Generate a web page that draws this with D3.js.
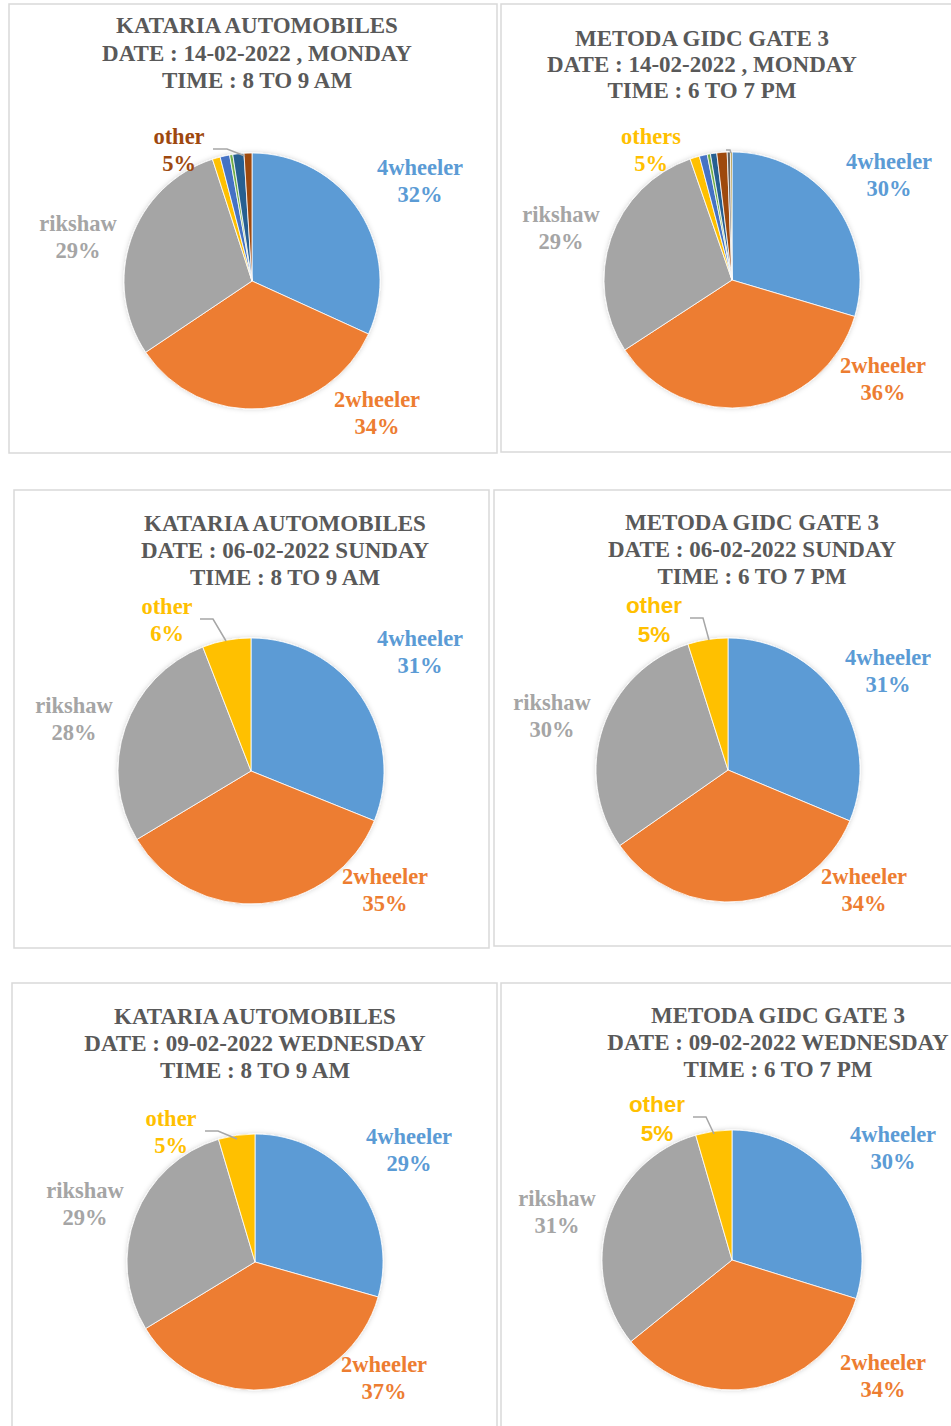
<!DOCTYPE html>
<html>
<head>
<meta charset="utf-8">
<script src="https://cdn.jsdelivr.net/npm/d3@7"></script>
<style>
  body { margin: 0; background: #fff; }
  svg { display: block; }
</style>
</head>
<body>
<svg id="chart" width="951" height="1426"></svg>
<script>
// slice order, clockwise from 12 o'clock
var categories = ["4wheeler", "2wheeler", "rikshaw", "other"];
var sliceColors = ["#5B9BD5", "#ED7D31", "#A5A5A5", "#FFC000", "#4472C4", "#70AD47", "#255E91", "#9E480E", "#636363", "#997300"];

// share of vehicles per chart (top two charts split "other" into small slices)
var values1 = [31.8, 33.8, 29.4, 1.0, 1.2, 0.4, 1.4, 1.0];
var values2 = [29.6, 36.2, 28.9, 1.2, 1.0, 0.4, 0.8, 1.3, 0.4, 0.2];
var values3 = [31.1, 35.3, 27.7, 5.9];
var values4 = [31.3, 34.0, 29.8, 4.9];
var values5 = [29.4, 36.9, 29.1, 4.6];
var values6 = [29.8, 34.4, 31.3, 4.5];

// label text as printed
var otherNames = ["other", "others", "other", "other", "other", "other"];

var titles = [
  ["KATARIA AUTOMOBILES", "DATE : 14-02-2022 , MONDAY", "TIME : 8 TO 9 AM"],
  ["METODA GIDC GATE 3", "DATE : 14-02-2022 , MONDAY", "TIME : 6 TO 7 PM"],
  ["KATARIA AUTOMOBILES", "DATE : 06-02-2022 SUNDAY", "TIME : 8 TO 9 AM"],
  ["METODA GIDC GATE 3", "DATE : 06-02-2022 SUNDAY", "TIME : 6 TO 7 PM"],
  ["KATARIA AUTOMOBILES", "DATE : 09-02-2022 WEDNESDAY", "TIME : 8 TO 9 AM"],
  ["METODA GIDC GATE 3", "DATE : 09-02-2022 WEDNESDAY", "TIME : 6 TO 7 PM"]
];

var allValues = [values1, values2, values3, values4, values5, values6];

// layout of each panel (box, title, pie, label anchors)
var panels = [
  {box: [9, 4, 488, 449], tx: 257, ty: [25, 53, 80], cx: 252, cy: 281, r: 128,
   labels: [[420, 167], [377, 399], [78, 223], [179, 136]], otherColor: "#9E480E", sans: false,
   leader: [[213, 149], [227, 149], [245, 156]]},
  {box: [501, 4, 470, 448], tx: 702, ty: [38, 64, 90], cx: 732, cy: 280, r: 128,
   labels: [[889, 161], [883, 365], [561, 214], [651, 136]], otherColor: "#FFC000", sans: false,
   leader: [[726, 150], [730, 150], [731, 153]]},
  {box: [14, 490, 475, 458], tx: 285, ty: [523, 550, 577], cx: 251, cy: 771, r: 133,
   labels: [[420, 638], [385, 876], [74, 705], [167, 606]], otherColor: "#FFC000", sans: false,
   leader: [[200, 619], [213, 619], [226, 641]]},
  {box: [494, 490, 470, 456], tx: 752, ty: [522, 549, 576], cx: 728, cy: 770, r: 132,
   labels: [[888, 657], [864, 876], [552, 702], [654, 605]], otherColor: "#FFC000", sans: true,
   leader: [[690, 618], [703, 618], [709, 640]]},
  {box: [12, 983, 485, 470], tx: 255, ty: [1016, 1043, 1070], cx: 255, cy: 1262, r: 128,
   labels: [[409, 1136], [384, 1364], [85, 1190], [171, 1118]], otherColor: "#FFC000", sans: false,
   leader: [[205, 1131], [218, 1131], [237, 1139]]},
  {box: [501, 983, 470, 470], tx: 778, ty: [1015, 1042, 1069], cx: 732, cy: 1260, r: 130,
   labels: [[893, 1134], [883, 1362], [557, 1198], [657, 1104]], otherColor: "#FFC000", sans: true,
   leader: [[693, 1117], [706, 1117], [714, 1134]]}
];

var serif = "'Liberation Serif', 'Times New Roman', serif";
var sans = "'Liberation Sans', Arial, sans-serif";

var svg = d3.select("#chart");

var defs = svg.append("defs");
var f = defs.append("filter").attr("id", "soft").attr("x", "-10%").attr("y", "-10%").attr("width", "120%").attr("height", "120%");
f.append("feDropShadow").attr("dx", 0).attr("dy", 0).attr("stdDeviation", 2.5)
  .attr("flood-color", "#000").attr("flood-opacity", 0.18);

var pie = d3.pie().sort(null).value(function(d) { return d; });
var line = d3.line();

panels.forEach(function(p, i) {
  var vals = allValues[i];
  var g = svg.append("g");

  g.append("rect")
    .attr("x", p.box[0]).attr("y", p.box[1])
    .attr("width", p.box[2]).attr("height", p.box[3])
    .attr("fill", "#fff").attr("stroke", "#d9d9d9").attr("stroke-width", 1.5);

  g.selectAll("text.title")
    .data(titles[i])
    .enter().append("text")
    .attr("class", "title")
    .attr("x", p.tx)
    .attr("y", function(d, j) { return p.ty[j]; })
    .attr("text-anchor", "middle")
    .attr("dominant-baseline", "central")
    .style("font-family", serif).style("font-weight", "bold").style("font-size", "23px")
    .style("fill", "#595959")
    .text(function(d) { return d; });

  var arc = d3.arc().innerRadius(0).outerRadius(p.r);
  var pg = g.append("g").attr("transform", "translate(" + p.cx + "," + p.cy + ")")
    .attr("filter", "url(#soft)");
  pg.selectAll("path")
    .data(pie(vals))
    .enter().append("path")
    .attr("d", arc)
    .attr("fill", function(d, j) { return sliceColors[j]; })
    .attr("stroke", "#fff").attr("stroke-width", 0.8);

  g.append("path")
    .attr("d", line(p.leader))
    .attr("fill", "none").attr("stroke", "#a6a6a6").attr("stroke-width", 1.5);

  // percentages: first three slices, then the rest summed as "other"
  var otherSum = d3.sum(vals.slice(3));
  var pcts = [vals[0], vals[1], vals[2], otherSum].map(function(v) { return Math.round(v) + "%"; });
  var names = [categories[0], categories[1], categories[2], otherNames[i]];
  var colors = [sliceColors[0], sliceColors[1], sliceColors[2], p.otherColor];

  names.forEach(function(name, j) {
    var font = (j === 3 && p.sans) ? sans : serif;
    var gap = (j === 3 && p.sans) ? 29 : 27;
    var t = g.append("text")
      .attr("text-anchor", "middle")
      .style("font-family", font).style("font-weight", "bold").style("font-size", "22.5px")
      .style("fill", colors[j]);
    t.append("tspan").attr("x", p.labels[j][0]).attr("y", p.labels[j][1])
      .attr("dominant-baseline", "central").text(name);
    t.append("tspan").attr("x", p.labels[j][0]).attr("y", p.labels[j][1] + gap)
      .attr("dominant-baseline", "central").text(pcts[j]);
  });
});
</script>
</body>
</html>
